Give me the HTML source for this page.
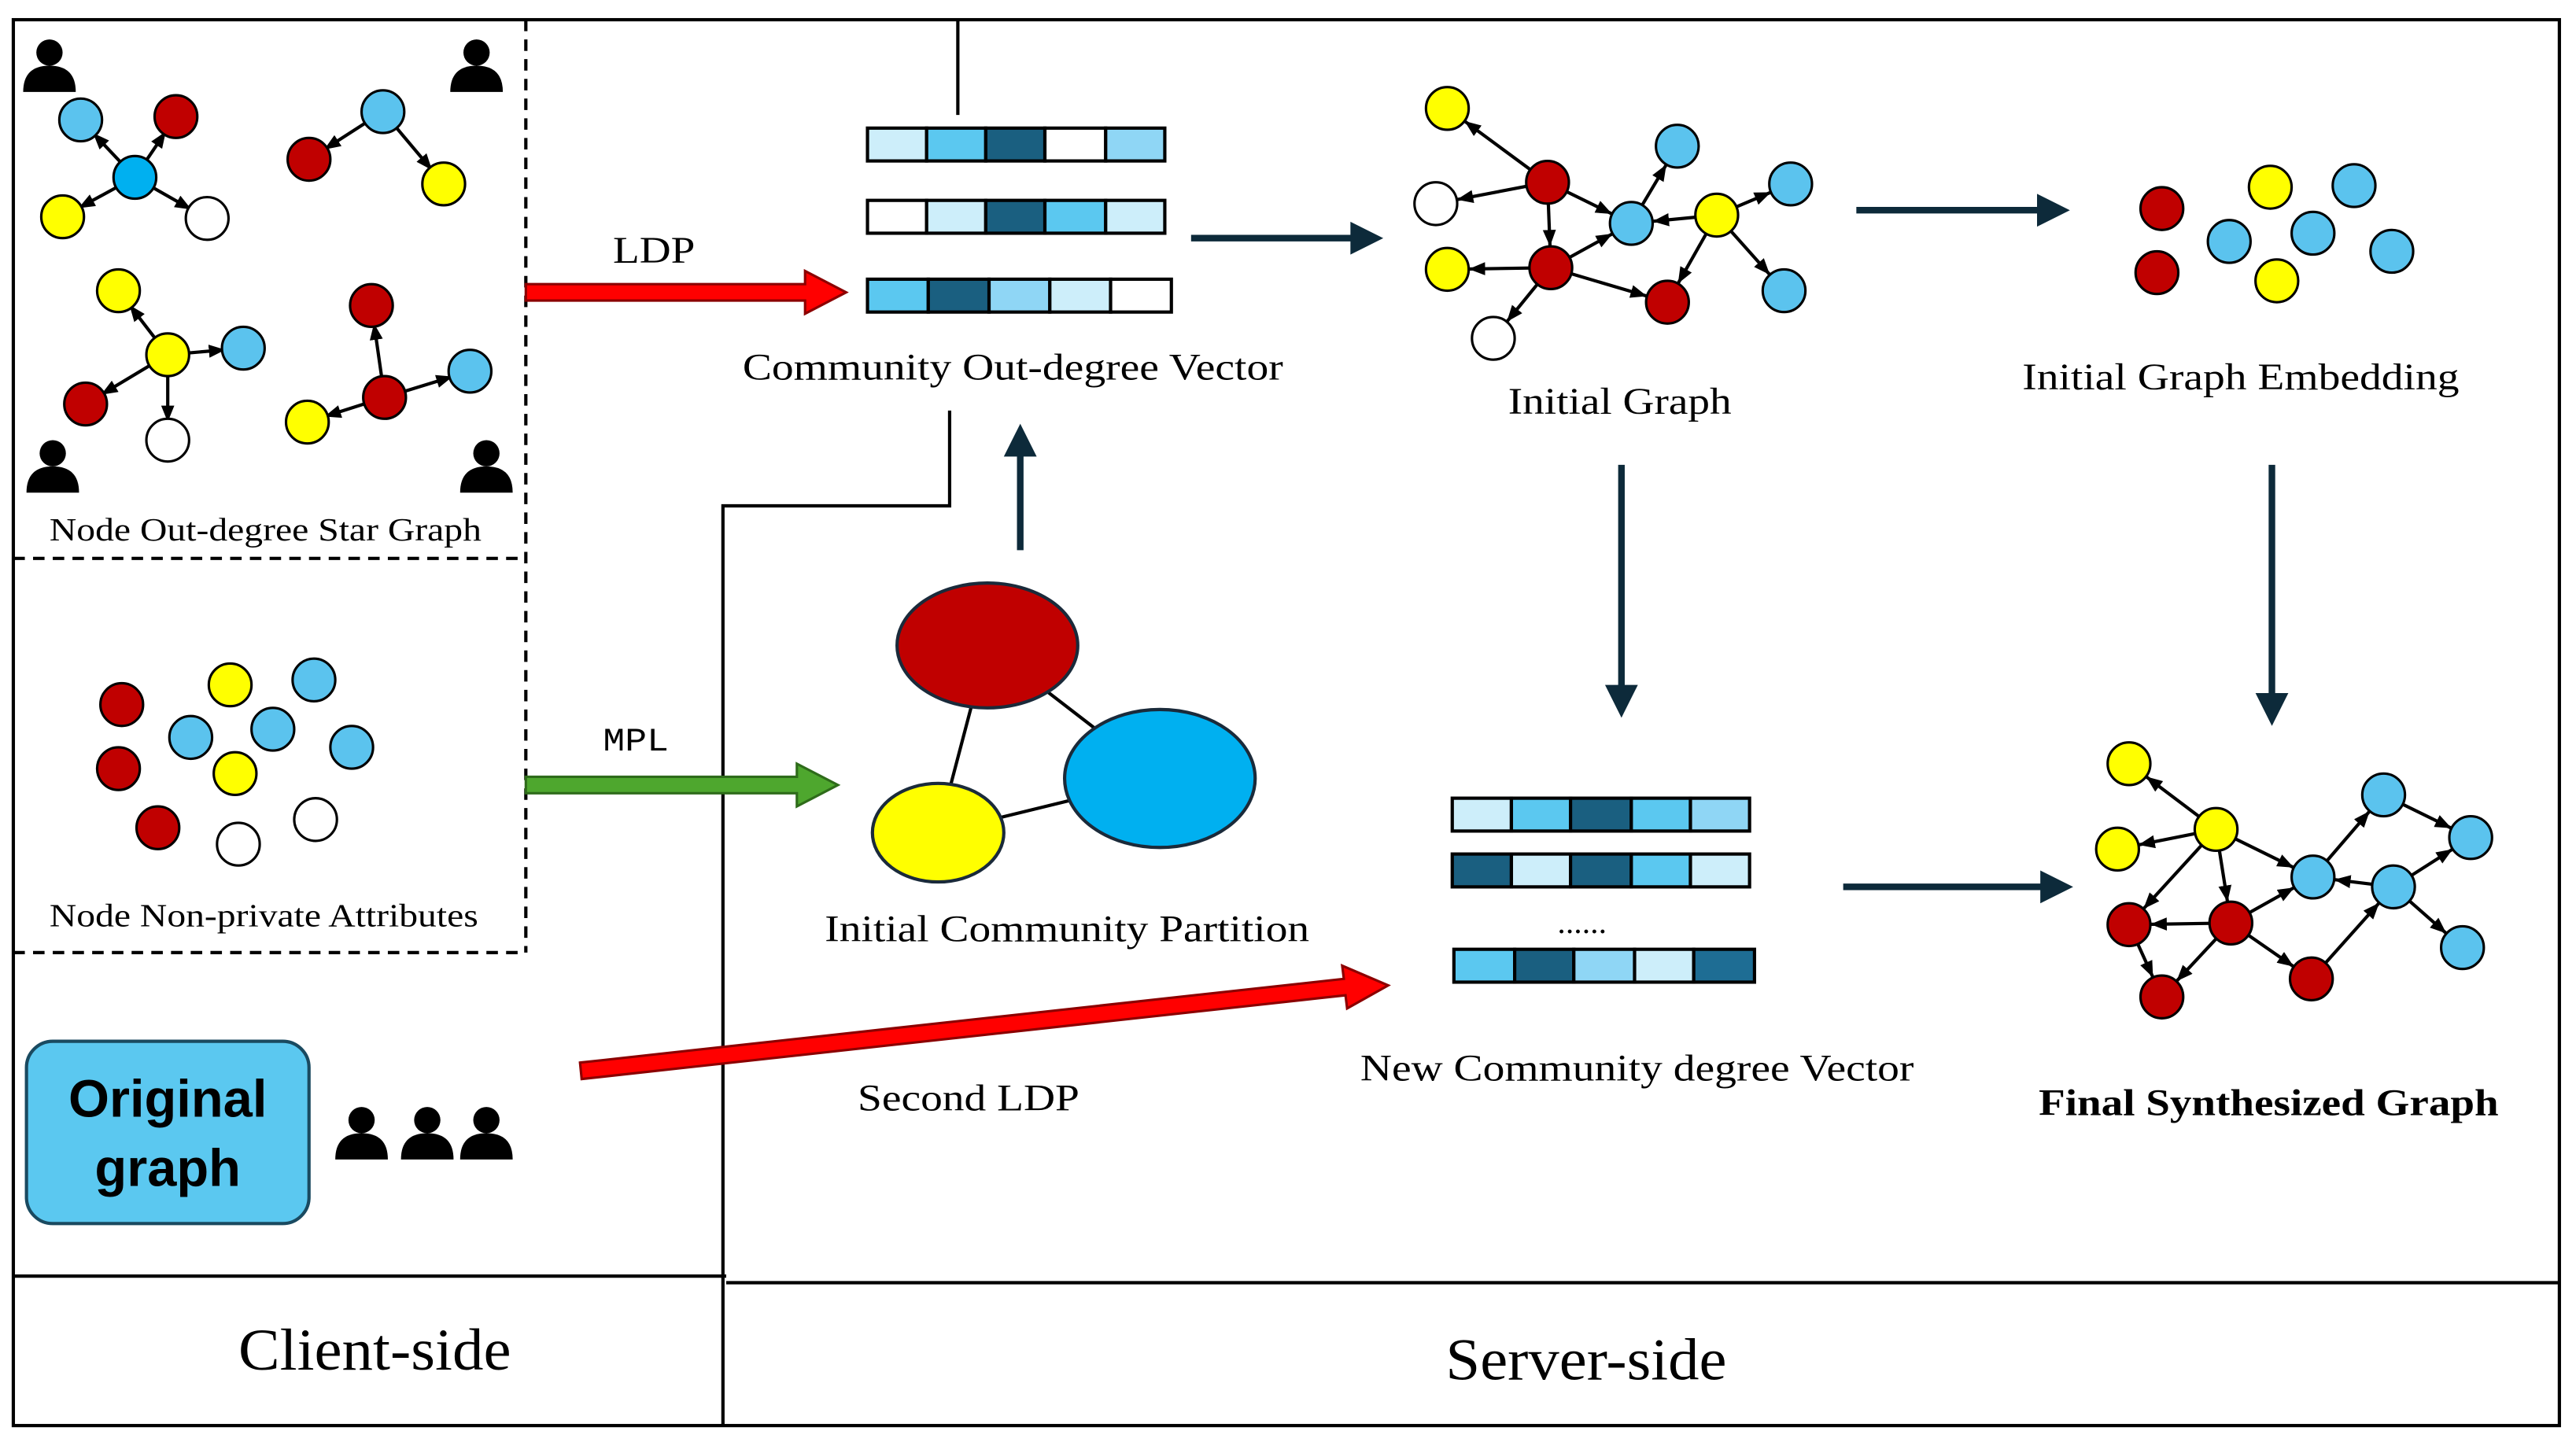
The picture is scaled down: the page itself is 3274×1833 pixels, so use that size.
<!DOCTYPE html>
<html><head><meta charset="utf-8"><style>
html,body{margin:0;padding:0;background:#fff;}
svg{display:block;}
text{font-family:"Liberation Serif",serif;fill:#000;}
</style></head><body>
<svg width="3274" height="1833" viewBox="0 0 1568 878" xmlns="http://www.w3.org/2000/svg">
<defs>
<marker id="ah" markerUnits="userSpaceOnUse" markerWidth="30" markerHeight="10" refX="23" refY="4" orient="auto"><path d="M0,0 L10,4 L0,8 z" fill="#000"/></marker>
<marker id="ah2" markerUnits="userSpaceOnUse" markerWidth="30" markerHeight="10" refX="21" refY="4" orient="auto"><path d="M0,0 L10,4 L0,8 z" fill="#000"/></marker>
</defs>
<rect x="0" y="0" width="1568" height="878" fill="#fff"/>
<rect x="8" y="12" width="1550" height="856" fill="none" stroke="#000" stroke-width="2"/>
<line x1="8" y1="777" x2="442" y2="777" stroke="#000" stroke-width="2"/>
<line x1="442" y1="781" x2="1558" y2="781" stroke="#000" stroke-width="2"/>
<polyline points="440,868 440,308 578,308 578,250" fill="none" stroke="#000" stroke-width="2"/>
<line x1="583" y1="12" x2="583" y2="70" stroke="#000" stroke-width="2"/>
<g stroke="#000" stroke-width="2" stroke-dasharray="7,5" fill="none">
<line x1="320" y1="12" x2="320" y2="580"/>
<line x1="8" y1="340" x2="320" y2="340"/>
<line x1="8" y1="580" x2="320" y2="580"/>
</g>

<g stroke="#000" stroke-width="2" marker-end="url(#ah2)">
<line x1="82" y1="108" x2="49" y2="73"/><line x1="82" y1="108" x2="107" y2="71"/>
<line x1="82" y1="108" x2="38" y2="132"/><line x1="82" y1="108" x2="126" y2="133"/>
<line x1="233" y1="68" x2="188" y2="97"/><line x1="233" y1="68" x2="270" y2="112"/>
<line x1="102" y1="216" x2="72" y2="177"/><line x1="102" y1="216" x2="148" y2="212"/>
<line x1="102" y1="216" x2="52" y2="246"/><line x1="102" y1="216" x2="102" y2="268"/>
<line x1="234" y1="242" x2="226" y2="186"/><line x1="234" y1="242" x2="286" y2="226"/>
<line x1="234" y1="242" x2="187" y2="257"/>
</g>
<g stroke="#000" stroke-width="1.5">
<circle cx="82" cy="108" r="13" fill="#00b0f0"/><circle cx="49" cy="73" r="13" fill="#5bc3ee"/>
<circle cx="107" cy="71" r="13" fill="#c00000"/><circle cx="38" cy="132" r="13" fill="#ffff00"/>
<circle cx="126" cy="133" r="13" fill="#fff"/>
<circle cx="233" cy="68" r="13" fill="#5bc3ee"/><circle cx="188" cy="97" r="13" fill="#c00000"/>
<circle cx="270" cy="112" r="13" fill="#ffff00"/>
<circle cx="102" cy="216" r="13" fill="#ffff00"/><circle cx="72" cy="177" r="13" fill="#ffff00"/>
<circle cx="148" cy="212" r="13" fill="#5bc3ee"/><circle cx="52" cy="246" r="13" fill="#c00000"/>
<circle cx="102" cy="268" r="13" fill="#fff"/>
<circle cx="234" cy="242" r="13" fill="#c00000"/><circle cx="226" cy="186" r="13" fill="#c00000"/>
<circle cx="286" cy="226" r="13" fill="#5bc3ee"/><circle cx="187" cy="257" r="13" fill="#ffff00"/>
</g>
<g fill="#000">
<g transform="translate(30,40)"><circle cx="0" cy="-8" r="8"/><path d="M-16,16 Q-16,0 0,0 Q16,0 16,16 z"/></g>
<g transform="translate(290,40)"><circle cx="0" cy="-8" r="8"/><path d="M-16,16 Q-16,0 0,0 Q16,0 16,16 z"/></g>
<g transform="translate(32,284)"><circle cx="0" cy="-8" r="8"/><path d="M-16,16 Q-16,0 0,0 Q16,0 16,16 z"/></g>
<g transform="translate(296,284)"><circle cx="0" cy="-8" r="8"/><path d="M-16,16 Q-16,0 0,0 Q16,0 16,16 z"/></g>
<g transform="translate(220,690)"><circle cx="0" cy="-8" r="8"/><path d="M-16,16 Q-16,0 0,0 Q16,0 16,16 z"/></g>
<g transform="translate(260,690)"><circle cx="0" cy="-8" r="8"/><path d="M-16,16 Q-16,0 0,0 Q16,0 16,16 z"/></g>
<g transform="translate(296,690)"><circle cx="0" cy="-8" r="8"/><path d="M-16,16 Q-16,0 0,0 Q16,0 16,16 z"/></g>
</g>
<text x="30" y="329" font-size="20" textLength="263" lengthAdjust="spacingAndGlyphs">Node Out-degree Star Graph</text>

<g stroke="#000" stroke-width="1.5">
<circle cx="74" cy="429" r="13" fill="#c00000"/><circle cx="72" cy="468" r="13" fill="#c00000"/>
<circle cx="96" cy="504" r="13" fill="#c00000"/><circle cx="140" cy="417" r="13" fill="#ffff00"/>
<circle cx="143" cy="471" r="13" fill="#ffff00"/><circle cx="191" cy="414" r="13" fill="#5bc3ee"/>
<circle cx="116" cy="449" r="13" fill="#5bc3ee"/><circle cx="166" cy="444" r="13" fill="#5bc3ee"/>
<circle cx="214" cy="455" r="13" fill="#5bc3ee"/><circle cx="145" cy="514" r="13" fill="#fff"/>
<circle cx="192" cy="499" r="13" fill="#fff"/>
</g>
<text x="30" y="564" font-size="20" textLength="261" lengthAdjust="spacingAndGlyphs">Node Non-private Attributes</text>

<rect x="16" y="634" width="172" height="111" rx="16" fill="#5bc8f0" stroke="#1a4a60" stroke-width="2"/>
<text x="102" y="680" font-size="32" font-weight="bold" text-anchor="middle" style="font-family:'Liberation Sans',sans-serif">Original</text>
<text x="102" y="722" font-size="32" font-weight="bold" text-anchor="middle" style="font-family:'Liberation Sans',sans-serif">graph</text>

<path d="M320,173 L490,173 L490,165 L515,178 L490,191 L490,183 L320,183 z" fill="#ff0000" stroke="#8b0000" stroke-width="1.5"/>
<text x="373" y="160" font-size="23" textLength="50" lengthAdjust="spacingAndGlyphs">LDP</text>
<path d="M320,473 L485,473 L485,465 L510,478 L485,491 L485,483 L320,483 z" fill="#4ea72e" stroke="#2e6b1a" stroke-width="1.5"/>
<text x="367" y="457" font-size="20" textLength="40" lengthAdjust="spacingAndGlyphs" style="font-family:'Liberation Mono',monospace">MPL</text>
<path d="M353,647 L818,596 L817,588 L845,600 L820,614 L819,606 L354,657 z" fill="#ff0000" stroke="#8b0000" stroke-width="1.5"/>
<text x="522" y="676" font-size="23" textLength="135" lengthAdjust="spacingAndGlyphs">Second LDP</text>

<g stroke="#0d2a3a" stroke-width="4" fill="#0d2a3a">
<line x1="725" y1="145" x2="825" y2="145"/><path d="M822,135 L842,145 L822,155 z" stroke="none"/>
<line x1="1130" y1="128" x2="1243" y2="128"/><path d="M1240,118 L1260,128 L1240,138 z" stroke="none"/>
<line x1="987" y1="283" x2="987" y2="420"/><path d="M977,417 L987,437 L997,417 z" stroke="none"/>
<line x1="1383" y1="283" x2="1383" y2="425"/><path d="M1373,422 L1383,442 L1393,422 z" stroke="none"/>
<line x1="1122" y1="540" x2="1245" y2="540"/><path d="M1242,530 L1262,540 L1242,550 z" stroke="none"/>
<line x1="621" y1="335" x2="621" y2="275"/><path d="M611,278 L621,258 L631,278 z" stroke="none"/>
</g>

<g stroke="#000" stroke-width="2">
<rect x="528" y="78" width="36" height="20" fill="#cdeefa"/><rect x="564" y="78" width="36" height="20" fill="#5bc8f0"/><rect x="600" y="78" width="36" height="20" fill="#1a5f80"/><rect x="636" y="78" width="37" height="20" fill="#fff"/><rect x="673" y="78" width="36" height="20" fill="#8fd6f5"/>
<rect x="528" y="122" width="36" height="20" fill="#fff"/><rect x="564" y="122" width="36" height="20" fill="#cdeefa"/><rect x="600" y="122" width="36" height="20" fill="#1a5f80"/><rect x="636" y="122" width="37" height="20" fill="#5bc8f0"/><rect x="673" y="122" width="36" height="20" fill="#cdeefa"/>
<rect x="528" y="170" width="37" height="20" fill="#5bc8f0"/><rect x="565" y="170" width="37" height="20" fill="#1a5f80"/><rect x="602" y="170" width="37" height="20" fill="#8fd6f5"/><rect x="639" y="170" width="37" height="20" fill="#cdeefa"/><rect x="676" y="170" width="37" height="20" fill="#fff"/>
<rect x="884" y="486" width="36" height="20" fill="#cdeefa"/><rect x="920" y="486" width="36" height="20" fill="#5bc8f0"/><rect x="956" y="486" width="37" height="20" fill="#1a5f80"/><rect x="993" y="486" width="36" height="20" fill="#5bc8f0"/><rect x="1029" y="486" width="36" height="20" fill="#8fd6f5"/>
<rect x="884" y="520" width="36" height="20" fill="#1a5f80"/><rect x="920" y="520" width="36" height="20" fill="#cdeefa"/><rect x="956" y="520" width="37" height="20" fill="#1a5f80"/><rect x="993" y="520" width="36" height="20" fill="#5bc8f0"/><rect x="1029" y="520" width="36" height="20" fill="#cdeefa"/>
<rect x="885" y="578" width="37" height="20" fill="#5bc8f0"/><rect x="922" y="578" width="36" height="20" fill="#1a5f80"/><rect x="958" y="578" width="37" height="20" fill="#8fd6f5"/><rect x="995" y="578" width="36" height="20" fill="#cdeefa"/><rect x="1031" y="578" width="37" height="20" fill="#1e6d94"/>
</g>
<text x="963" y="568" font-size="20" text-anchor="middle">......</text>
<text x="452" y="231" font-size="23" textLength="329" lengthAdjust="spacingAndGlyphs">Community Out-degree Vector</text>
<text x="828" y="658" font-size="23" textLength="337" lengthAdjust="spacingAndGlyphs">New Community degree Vector</text>

<g stroke="#000" stroke-width="2">
<line x1="601" y1="393" x2="571" y2="507"/><line x1="601" y1="393" x2="706" y2="474"/><line x1="571" y1="507" x2="706" y2="474"/>
<ellipse cx="601" cy="393" rx="55" ry="38" fill="#c00000" stroke="#1a2a3a"/>
<ellipse cx="706" cy="474" rx="58" ry="42" fill="#00b0f0" stroke="#1a2a3a"/>
<ellipse cx="571" cy="507" rx="40" ry="30" fill="#ffff00" stroke="#1a2a3a"/>
</g>
<text x="502" y="573" font-size="23" textLength="295" lengthAdjust="spacingAndGlyphs">Initial Community Partition</text>

<g stroke="#000" stroke-width="2" marker-end="url(#ah)">
<line x1="942" y1="111" x2="881" y2="66"/><line x1="942" y1="111" x2="874" y2="124"/>
<line x1="942" y1="111" x2="944" y2="163"/><line x1="944" y1="163" x2="881" y2="164"/>
<line x1="944" y1="163" x2="909" y2="206"/><line x1="944" y1="163" x2="1015" y2="184"/>
<line x1="944" y1="163" x2="993" y2="136"/><line x1="993" y1="136" x2="1021" y2="89"/>
<line x1="1045" y1="131" x2="993" y2="136"/><line x1="1045" y1="131" x2="1090" y2="112"/>
<line x1="1045" y1="131" x2="1086" y2="177"/><line x1="1045" y1="131" x2="1015" y2="184"/>
<line x1="942" y1="111" x2="993" y2="136"/>
</g>
<g stroke="#000" stroke-width="1.5">
<circle cx="881" cy="66" r="13" fill="#ffff00"/><circle cx="874" cy="124" r="13" fill="#fff"/>
<circle cx="881" cy="164" r="13" fill="#ffff00"/><circle cx="909" cy="206" r="13" fill="#fff"/>
<circle cx="942" cy="111" r="13" fill="#c00000"/><circle cx="944" cy="163" r="13" fill="#c00000"/>
<circle cx="993" cy="136" r="13" fill="#5bc3ee"/><circle cx="1021" cy="89" r="13" fill="#5bc3ee"/>
<circle cx="1045" cy="131" r="13" fill="#ffff00"/><circle cx="1090" cy="112" r="13" fill="#5bc3ee"/>
<circle cx="1086" cy="177" r="13" fill="#5bc3ee"/><circle cx="1015" cy="184" r="13" fill="#c00000"/>
</g>
<text x="918" y="252" font-size="23" textLength="136" lengthAdjust="spacingAndGlyphs">Initial Graph</text>

<g stroke="#000" stroke-width="1.5">
<circle cx="1316" cy="127" r="13" fill="#c00000"/><circle cx="1313" cy="166" r="13" fill="#c00000"/>
<circle cx="1382" cy="114" r="13" fill="#ffff00"/><circle cx="1386" cy="171" r="13" fill="#ffff00"/>
<circle cx="1357" cy="147" r="13" fill="#5bc3ee"/><circle cx="1408" cy="142" r="13" fill="#5bc3ee"/>
<circle cx="1433" cy="113" r="13" fill="#5bc3ee"/><circle cx="1456" cy="153" r="13" fill="#5bc3ee"/>
</g>
<text x="1231" y="237" font-size="23" textLength="266" lengthAdjust="spacingAndGlyphs">Initial Graph Embedding</text>

<g stroke="#000" stroke-width="2" marker-end="url(#ah)">
<line x1="1349" y1="505" x2="1296" y2="465"/><line x1="1349" y1="505" x2="1289" y2="517"/>
<line x1="1349" y1="505" x2="1296" y2="563"/><line x1="1349" y1="505" x2="1358" y2="562"/>
<line x1="1349" y1="505" x2="1408" y2="534"/><line x1="1358" y1="562" x2="1296" y2="563"/>
<line x1="1358" y1="562" x2="1316" y2="607"/><line x1="1296" y1="563" x2="1316" y2="607"/>
<line x1="1358" y1="562" x2="1407" y2="596"/><line x1="1358" y1="562" x2="1408" y2="534"/>
<line x1="1408" y1="534" x2="1451" y2="484"/><line x1="1457" y1="540" x2="1408" y2="534"/>
<line x1="1451" y1="484" x2="1504" y2="510"/><line x1="1457" y1="540" x2="1504" y2="510"/>
<line x1="1457" y1="540" x2="1499" y2="577"/><line x1="1407" y1="596" x2="1457" y2="540"/>
</g>
<g stroke="#000" stroke-width="1.5">
<circle cx="1296" cy="465" r="13" fill="#ffff00"/><circle cx="1289" cy="517" r="13" fill="#ffff00"/>
<circle cx="1349" cy="505" r="13" fill="#ffff00"/><circle cx="1296" cy="563" r="13" fill="#c00000"/>
<circle cx="1358" cy="562" r="13" fill="#c00000"/><circle cx="1316" cy="607" r="13" fill="#c00000"/>
<circle cx="1407" cy="596" r="13" fill="#c00000"/><circle cx="1408" cy="534" r="13" fill="#5bc3ee"/>
<circle cx="1451" cy="484" r="13" fill="#5bc3ee"/><circle cx="1457" cy="540" r="13" fill="#5bc3ee"/>
<circle cx="1504" cy="510" r="13" fill="#5bc3ee"/><circle cx="1499" cy="577" r="13" fill="#5bc3ee"/>
</g>
<text x="1241" y="679" font-size="23" font-weight="bold" textLength="280" lengthAdjust="spacingAndGlyphs">Final Synthesized Graph</text>

<text x="145" y="834" font-size="36" textLength="166" lengthAdjust="spacingAndGlyphs">Client-side</text>
<text x="880" y="840" font-size="36" textLength="171" lengthAdjust="spacingAndGlyphs">Server-side</text>
</svg>
</body></html>
